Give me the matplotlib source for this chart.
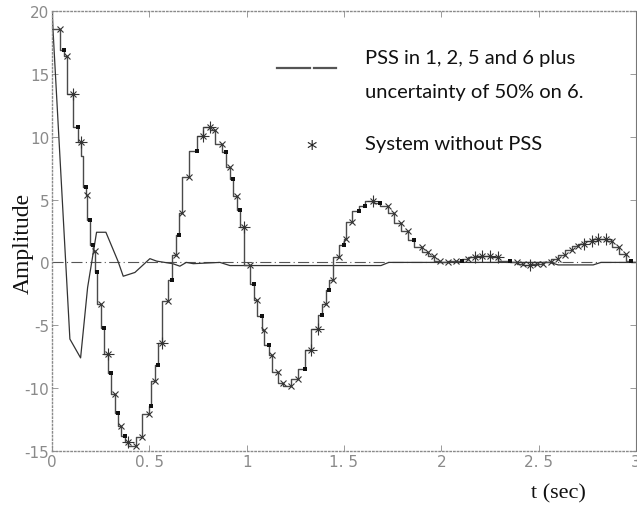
import matplotlib
matplotlib.use("Agg")
import matplotlib.pyplot as plt
from matplotlib.lines import Line2D

# ---- data: system without PSS (staircase with markers) ----
t_nopss = [0.000, 0.041, 0.063, 0.075, 0.110, 0.135, 0.147, 0.160, 0.175, 0.181,
           0.195, 0.212, 0.221, 0.230, 0.250, 0.269, 0.286, 0.303, 0.324, 0.341,
           0.353, 0.375, 0.392, 0.430, 0.461, 0.498, 0.508, 0.529, 0.545, 0.563,
           0.597, 0.614, 0.635, 0.652, 0.669, 0.705, 0.743, 0.774, 0.810, 0.837,
           0.875, 0.892, 0.914, 0.930, 0.952, 0.965, 0.986, 1.017, 1.037, 1.055,
           1.077, 1.089, 1.115, 1.132, 1.159, 1.188, 1.226, 1.263, 1.300, 1.330,
           1.368, 1.385, 1.406, 1.425, 1.445, 1.476, 1.500, 1.510, 1.542, 1.578,
           1.607, 1.650, 1.685, 1.724, 1.757, 1.792, 1.830, 1.861, 1.899, 1.933,
           1.962, 1.993, 2.035, 2.078, 2.107, 2.138, 2.173, 2.207, 2.250, 2.292,
           2.352, 2.390, 2.420, 2.455, 2.490, 2.523, 2.566, 2.600, 2.635, 2.669,
           2.703, 2.732, 2.772, 2.806, 2.844, 2.875, 2.914, 2.948, 2.974, 3.000]
y_nopss = [20.0, 18.6, 16.9, 16.4, 13.4, 10.8, 9.6, 8.5, 6.0, 5.4,
           3.4, 1.4, 0.9, -0.8, -3.3, -5.2, -7.3, -8.8, -10.5, -12.0,
           -13.0, -13.8, -14.3, -14.6, -13.9, -12.1, -11.4, -9.4, -8.2, -6.4,
           -3.1, -1.4, 0.6, 2.2, 3.9, 6.8, 8.9, 10.1, 10.8, 10.5,
           9.4, 8.8, 7.6, 6.6, 5.3, 4.2, 2.8, -0.2, -1.7, -3.0,
           -4.3, -5.4, -6.6, -7.4, -8.7, -9.6, -9.8, -9.3, -8.5, -7.0,
           -5.3, -4.2, -3.3, -2.2, -1.4, 0.4, 1.4, 1.9, 3.2, 4.1,
           4.5, 4.9, 4.7, 4.5, 3.9, 3.1, 2.5, 1.8, 1.2, 0.8,
           0.5, 0.1, 0.0, 0.15, 0.15, 0.25, 0.45, 0.5, 0.5, 0.45,
           0.15, 0.05, -0.1, -0.2, -0.15, -0.15, 0.05, 0.25, 0.55, 0.95,
           1.3, 1.5, 1.7, 1.85, 1.85, 1.7, 1.25, 0.7, 0.1, 0.0]
# marker code per point: x = cross, a = asterisk (x and +), s = small square
m_nopss = ["", "x", "s", "x", "a", "s", "a", "", "s", "x",
           "s", "s", "x", "s", "x", "s", "a", "s", "x", "s",
           "x", "s", "a", "x", "x", "x", "s", "x", "s", "a",
           "x", "s", "x", "s", "x", "x", "s", "a", "a", "x",
           "x", "s", "x", "s", "x", "s", "a", "x", "s", "x",
           "s", "x", "s", "x", "x", "x", "x", "x", "s", "a",
           "a", "s", "x", "s", "x", "x", "s", "x", "x", "s",
           "s", "a", "s", "x", "x", "x", "x", "s", "x", "x",
           "x", "x", "x", "x", "s", "x", "a", "a", "a", "a",
           "s", "x", "x", "a", "x", "x", "x", "x", "x", "x",
           "x", "a", "a", "a", "a", "x", "x", "x", "s", ""]

# ---- data: PSS in 1, 2, 5 and 6 plus uncertainty ----
t_pss = [0.000, 0.092, 0.147, 0.183, 0.229, 0.277, 0.339, 0.366, 0.426, 0.503,
         0.538, 0.620, 0.657, 0.690, 0.726, 0.863, 0.914, 1.690, 1.730, 2.560,
         2.600, 2.780, 2.820, 3.000]
y_pss = [20.0, -6.1, -7.6, -2.0, 2.4, 2.4, 0.1, -1.1, -0.8, 0.3,
         0.1, -0.1, -0.3, 0.0, -0.1, 0.0, -0.25, -0.25, 0.0, 0.0,
         -0.2, -0.2, 0.0, 0.0]

x_ticks = [0, 0.5, 1, 1.5, 2, 2.5, 3]
x_ticklabels = ["0", "0. 5", "1", "1. 5", "2", "2. 5", "3"]
y_ticks = [-15, -10, -5, 0, 5, 10, 15, 20]
y_ticklabels = ["-15", "-10", "-5", "0", "5", "10", "15", "20"]

legend_lines = ["PSS in 1, 2, 5 and 6 plus", "uncertainty of 50% on 6.", "System without PSS"]

fig = plt.figure(figsize=(6.37, 5.06), dpi=100)
ax = fig.add_axes([0.0816, 0.107, 0.9168, 0.869])

grey = "#8a8a8a"
# zero reference
ax.axhline(0, color="#555555", lw=0.8, ls=(0, (10, 3, 1, 3)))
# PSS response
ax.plot(t_pss, y_pss, color="#333333", lw=0.9)
# staircase of system without PSS
ax.plot(t_nopss, y_nopss, color="#4a4a4a", lw=1.0, drawstyle="steps-pre")
for code in ("x", "a", "s"):
    xs = [t for t, m in zip(t_nopss, m_nopss) if m == code]
    ys = [y for y, m in zip(y_nopss, m_nopss) if m == code]
    if code == "x":
        ax.plot(xs, ys, ls="none", marker="x", ms=5, mew=0.8, color="#333333")
    elif code == "a":
        ax.plot(xs, ys, ls="none", marker="x", ms=5, mew=0.8, color="#333333")
        ax.plot(xs, ys, ls="none", marker="+", ms=8, mew=0.8, color="#333333")
    else:
        ax.plot(xs, ys, ls="none", marker="s", ms=3.2, mew=0, color="#111111")

ax.set_xlim(0, 3)
ax.set_ylim(-15, 20)
ax.set_xticks(x_ticks)
ax.set_xticklabels(x_ticklabels)
ax.set_yticks(y_ticks)
ax.set_yticklabels(y_ticklabels)
ax.tick_params(direction="in", length=4, width=0.6, color=grey, labelcolor=grey,
               labelsize=11, top=True, right=True, pad=2)
for lab in ax.get_xticklabels() + ax.get_yticklabels():
    lab.set_family("DejaVu Sans")
for side in ("left", "top", "bottom"):
    ax.spines[side].set_linestyle(":")
    ax.spines[side].set_color(grey)
    ax.spines[side].set_linewidth(1.0)
ax.spines["right"].set_color("#777777")
ax.spines["right"].set_linewidth(0.8)

# axis labels
fig.text(23 / 637, 1 - 243 / 506, "Amplitude", rotation=90, ha="center", va="center",
         family="Liberation Serif", fontsize=17, color="#111111")
fig.text(558 / 637, 1 - 494 / 506, "t (sec)", ha="center", va="center",
         family="Liberation Serif", fontsize=16, color="#111111")

# legend (drawn manually as in the figure)
fig.add_artist(Line2D([277 / 637, 310 / 637], [1 - 69 / 506, 1 - 69 / 506], color="#555555", lw=1.6))
fig.add_artist(Line2D([314 / 637, 336 / 637], [1 - 69 / 506, 1 - 69 / 506], color="#555555", lw=1.6))
fig.text(312 / 637, 1 - 150 / 506, "*", ha="center", va="center", fontsize=15,
         family="DejaVu Sans", color="#222222")
fig.text(365 / 637, 1 - 64 / 506, legend_lines[0], ha="left", va="baseline",
         family="Lato", fontsize=14.5, color="#111111")
fig.text(365 / 637, 1 - 98 / 506, legend_lines[1], ha="left", va="baseline",
         family="Lato", fontsize=14.5, color="#111111")
fig.text(365 / 637, 1 - 150 / 506, legend_lines[2], ha="left", va="baseline",
         family="Lato", fontsize=14.5, color="#111111")

fig.savefig("out.png", dpi=100)
